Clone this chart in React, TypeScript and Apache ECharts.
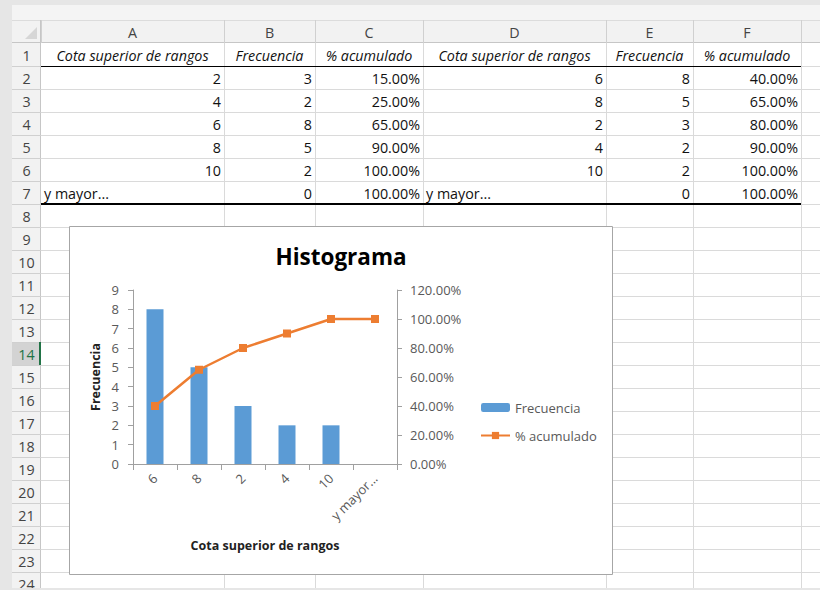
import React, { useEffect, useRef } from "react";
import * as echarts from "echarts";

// ---- Data ----
const columnLetters = ["A", "B", "C", "D", "E", "F"];
const headerLabels = ["Cota superior de rangos", "Frecuencia", "% acumulado"];
const cotaSorted = ["2", "4", "6", "8", "10", "y mayor..."];
const freqSorted = [3, 2, 8, 5, 2, 0];
const pctSorted = [0.15, 0.25, 0.65, 0.9, 1, 1];
const cotaPareto = ["6", "8", "2", "4", "10", "y mayor..."];
const freqPareto = [8, 5, 3, 2, 2, 0];
const pctPareto = [0.4, 0.65, 0.8, 0.9, 1, 1];
const rowCount = 24;
const selectedRow = 14;
const chartTitle = "Histograma";
const xAxisTitle = "Cota superior de rangos";
const yAxisTitle = "Frecuencia";
const seriesNames = ["Frecuencia", "% acumulado"];

// ---- Layout ----
const W = 820;
const H = 590;
const COL_X = [41, 224, 315, 423, 606, 693, 801, 840];
const ROW_TOP = 43;
const ROW_H = 23;
const FONT = "'Open Sans', 'Noto Sans', sans-serif";
const CELL_FS = 14.3;

const pct = (v: number) => (v * 100).toFixed(2) + "%";

function txt(x: number, y: number, text: string, o: any = {}) {
  const align = o.align || "left";
  return {
    type: "text",
    x,
    y,
    z: o.z ?? -8,
    silent: true,
    style: {
      text,
      fill: o.fill || "#111",
      fontSize: o.fontSize || CELL_FS,
      fontFamily: FONT,
      fontStyle: o.fontStyle || "normal",
      fontWeight: o.fontWeight || "normal",
      align,
      verticalAlign: "middle",
      textAlign: align,
      textVerticalAlign: "middle",
    },
  };
}

function line(x1: number, y1: number, x2: number, y2: number, stroke: string, w = 1, z = -9) {
  return {
    type: "line",
    z,
    silent: true,
    shape: { x1, y1, x2, y2 },
    style: { stroke, lineWidth: w },
  };
}

function rect(x: number, y: number, w: number, h: number, style: any, z = -10) {
  return { type: "rect", z, silent: true, shape: { x, y, width: w, height: h }, style };
}

function buildSheet() {
  const els: any[] = [];
  // backgrounds
  els.push(rect(0, 0, W, H, { fill: "#e6e6e6" }, -12));
  els.push(rect(12, 5, W - 12, H - 5, { fill: "#f4f4f4" }, -11));
  els.push(rect(41, 43, W - 41, 545, { fill: "#ffffff" }, -11));
  // column header row
  els.push(rect(41, 20, W - 41, 23, { fill: "#f2f2f2" }, -10));
  els.push(line(12, 42.5, W, 42.5, "#c6c6c6"));
  els.push(line(12, 20.5, W, 20.5, "#dcdcdc"));
  // corner cell
  els.push(rect(12, 20, 29, 23, { fill: "#f2f2f2" }, -10));
  els.push({
    type: "polygon",
    z: -9,
    silent: true,
    shape: { points: [[37, 39], [37, 27], [25, 39]] },
    style: { fill: "#d6d6d6" },
  });
  // row header column
  els.push(rect(12, 43, 29, 545, { fill: "#f2f2f2" }, -10));
  const rTop = ROW_TOP + ROW_H * (selectedRow - 1);
  els.push(rect(12, rTop, 29, ROW_H, { fill: "#d3d3d3" }, -10));
  els.push(line(40.5, 20, 40.5, H, "#c6c6c6"));
  // column header separators + letters
  for (let i = 0; i < COL_X.length; i++) {
    els.push(line(COL_X[i] + 0.5, 20, COL_X[i] + 0.5, 43, "#d0d0d0"));
  }
  columnLetters.forEach((c, i) => {
    els.push(txt((COL_X[i] + COL_X[i + 1]) / 2, 32, c, { align: "center", fill: "#444" }));
  });
  // row separators & numbers
  for (let r = 1; r <= rowCount; r++) {
    const top = ROW_TOP + ROW_H * (r - 1);
    const bottom = top + ROW_H;
    els.push(line(12, bottom + 0.5, 41, bottom + 0.5, "#d0d0d0"));
    els.push(line(41, bottom + 0.5, W, bottom + 0.5, "#dadada"));
    els.push(
      txt(26.5, top + 12, String(r), {
        align: "center",
        fill: r === selectedRow ? "#217346" : "#444",
      })
    );
  }
  els.push(line(40, rTop, 40, rTop + ROW_H, "#217346", 2, -8));
  // vertical grid lines
  for (let i = 1; i < COL_X.length; i++) {
    els.push(line(COL_X[i] + 0.5, 43, COL_X[i] + 0.5, H, "#dadada"));
  }
  // table header row
  const blocks = [0, 3];
  blocks.forEach((b) => {
    headerLabels.forEach((h, j) => {
      const c = b + j;
      els.push(
        txt((COL_X[c] + COL_X[c + 1]) / 2, ROW_TOP + 12, h, { align: "center", fontStyle: "italic" })
      );
    });
  });
  const fill = (cots: string[], freqs: number[], pcts: number[], b: number) => {
    cots.forEach((cv, k) => {
      const y = ROW_TOP + ROW_H * (k + 1) + 12;
      const isNum = !isNaN(Number(cv));
      if (isNum) els.push(txt(COL_X[b + 1] - 3, y, cv, { align: "right" }));
      else els.push(txt(COL_X[b] + 3, y, cv, { align: "left" }));
      els.push(txt(COL_X[b + 2] - 3, y, String(freqs[k]), { align: "right" }));
      els.push(txt(COL_X[b + 3] - 3, y, pct(pcts[k]), { align: "right" }));
    });
  };
  fill(cotaSorted, freqSorted, pctSorted, 0);
  fill(cotaPareto, freqPareto, pctPareto, 3);
  // borders
  els.push(line(41, 66.5, 801, 66.5, "#000", 1, -7));
  els.push(line(41, 204, 801, 204, "#000", 2, -7));
  // bottom strip
  els.push(rect(0, 588, W, 2, { fill: "#e6e6e6" }, -6));
  // chart box
  els.push(rect(69.5, 226.5, 543, 348, { fill: "#ffffff", stroke: "#a6a6a6", lineWidth: 1 }, -5));
  return els;
}

export default function App() {
  const ref = useRef<HTMLDivElement>(null);
  useEffect(() => {
    if (!ref.current) return;
    const chart = echarts.init(ref.current, undefined, { renderer: "svg" });
    const axisColor = "#a0a0a0";
    const labelColor = "#595959";
    const LFS = 13;
    chart.setOption({
      animation: false,
      title: {
        text: chartTitle,
        left: 336,
        top: 240,
        textAlign: "center",
        textStyle: { fontSize: 22.5, fontWeight: "bold", color: "#000", fontFamily: FONT },
      },
      legend: {
        orient: "vertical",
        left: 480,
        top: 401,
        padding: 0,
        itemWidth: 29,
        itemHeight: 9,
        itemGap: 15,
        data: seriesNames,
        textStyle: { fontSize: LFS, color: labelColor, fontFamily: FONT },
      },
      grid: { left: 133, right: W - 397, top: 290, bottom: H - 464 },
      xAxis: {
        type: "category",
        data: cotaPareto,
        z: 3,
        axisLine: { lineStyle: { color: axisColor } },
        axisTick: { show: true, length: 6, lineStyle: { color: axisColor } },
        axisLabel: {
          rotate: 45,
          interval: 0,
          margin: 12,
          fontSize: LFS,
          color: labelColor,
          fontFamily: FONT,
        },
        name: xAxisTitle,
        nameLocation: "middle",
        nameGap: 75,
        nameTextStyle: { fontSize: 12.5, fontWeight: "bold", color: "#222", fontFamily: FONT },
      },
      yAxis: [
        {
          type: "value",
          min: 0,
          max: 9,
          interval: 1,
          z: 3,
          axisLine: { show: true, lineStyle: { color: axisColor } },
          axisTick: { show: true, length: 5, lineStyle: { color: axisColor } },
          splitLine: { show: false },
          axisLabel: { margin: 14, fontSize: LFS, color: labelColor, fontFamily: FONT },
          name: yAxisTitle,
          nameLocation: "middle",
          nameGap: 31,
          nameTextStyle: { fontSize: 12.5, fontWeight: "bold", color: "#222", fontFamily: FONT },
        },
        {
          type: "value",
          min: 0,
          max: 1.2,
          interval: 0.2,
          position: "right",
          z: 3,
          axisLine: { show: true, lineStyle: { color: axisColor } },
          axisTick: { show: true, length: 5, lineStyle: { color: axisColor } },
          splitLine: { show: false },
          axisLabel: {
            margin: 13,
            fontSize: LFS,
            color: labelColor,
            fontFamily: FONT,
            formatter: (v: number) => pct(v),
          },
        },
      ],
      series: [
        {
          name: seriesNames[0],
          type: "bar",
          data: freqPareto,
          barWidth: 17,
          itemStyle: { color: "#5B9BD5" },
        },
        {
          name: seriesNames[1],
          type: "line",
          yAxisIndex: 1,
          data: pctPareto,
          symbol: "rect",
          symbolSize: 8,
          lineStyle: { color: "#ED7D31", width: 2.5 },
          itemStyle: { color: "#ED7D31" },
        },
      ],
      graphic: { elements: buildSheet() },
    });
    return () => chart.dispose();
  }, []);
  return (
    <div
      ref={ref}
      style={{ position: "fixed", left: 0, top: 0, width: W, height: H, background: "#fff" }}
    />
  );
}
